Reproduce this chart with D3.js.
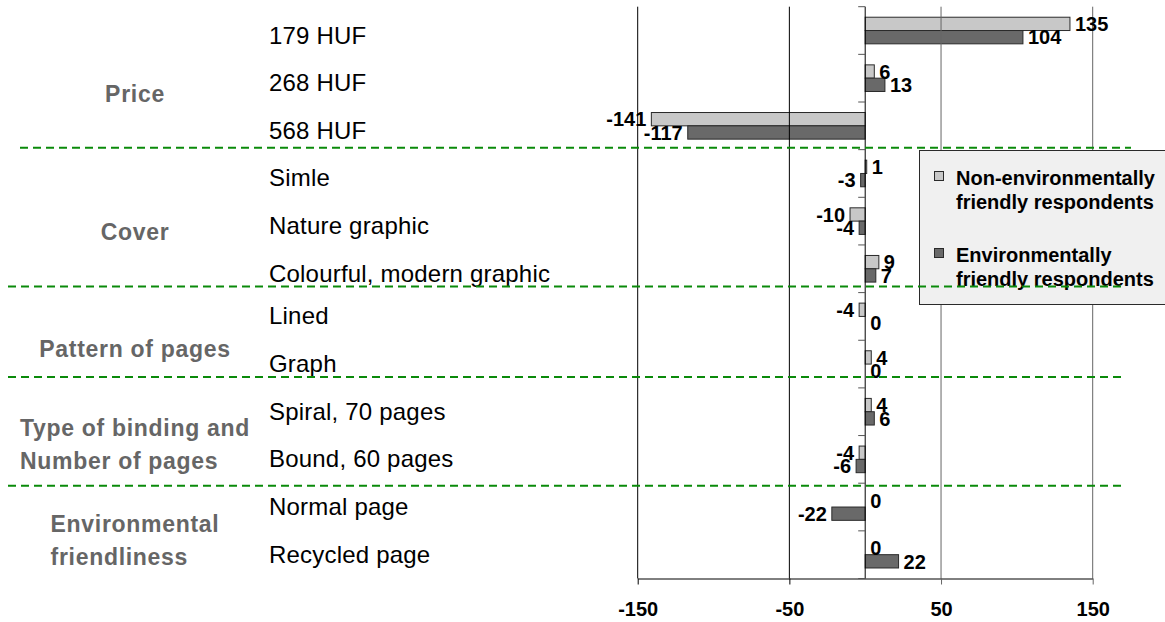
<!DOCTYPE html>
<html>
<head>
<meta charset="utf-8">
<script src="https://cdn.jsdelivr.net/npm/d3@7"></script>
<style>
  html, body { margin: 0; padding: 0; background: #ffffff; }
  svg { display: block; }
</style>
</head>
<body>
<div id="chart"></div>
<script>
// ---------------- data ----------------
const categories = [
  "179 HUF", "268 HUF", "568 HUF",
  "Simle", "Nature graphic", "Colourful, modern graphic",
  "Lined", "Graph",
  "Spiral, 70 pages", "Bound, 60 pages",
  "Normal page", "Recycled page"
];
const nonEnvValues = [135, 6, -141, 1, -10, 9, -4, 4, 4, -4, 0, 0];
const envValues    = [104, 13, -117, -3, -4, 7, 0, 0, 6, -6, -22, 22];
const seriesKeys = ["nonEnv", "env"];
const legendLabels = [
  ["Non-environmentally", "friendly respondents"],
  ["Environmentally", "friendly respondents"]
];
const groupNames = [
  ["Price"],
  ["Cover"],
  ["Pattern of pages"],
  ["Type of binding and", "Number of pages"],
  ["Environmental", "friendliness"]
];
const groupSizes = [3, 3, 2, 2, 2];
const xTickValues = [-150, -50, 50, 150];
const xDomain = [-150, 150];

// ---------------- layout / style ----------------
const W = 1165, H = 622;
const plotTop = 6.7, plotBottom = 578.5;
const colors = { nonEnv: "#c8c8c8", env: "#696969" };
const values = { nonEnv: nonEnvValues, env: envValues };
const fmt = v => String(v); // plain hyphen-minus, as in the reference

const svg = d3.select("#chart").append("svg")
  .attr("width", W).attr("height", H)
  .attr("font-family", "Arial, 'Liberation Sans', Helvetica, sans-serif");

const x = d3.scaleLinear().domain(xDomain).range([637.7, 1092.7]);
const y = d3.scaleBand().domain(categories).range([plotTop, plotBottom]);
const yInner = d3.scaleBand().domain(seriesKeys).range([0, y.bandwidth()])
  .paddingInner(0).paddingOuter(0.79);
const yIdx = d3.scaleLinear().domain([0, categories.length]).range([plotTop, plotBottom]);

// ---------------- bars ----------------
const barsG = svg.append("g");
seriesKeys.forEach(k => {
  barsG.selectAll("rect." + k)
    .data(categories.map((c, i) => ({ c, v: values[k][i] })))
    .join("rect")
    .attr("class", k)
    .attr("x", d => x(Math.min(0, d.v)))
    .attr("y", d => y(d.c) + yInner(k))
    .attr("width", d => Math.abs(x(d.v) - x(0)))
    .attr("height", yInner.bandwidth())
    .attr("fill", colors[k])
    .attr("stroke", "#2a2a2a")
    .attr("stroke-width", 1);
});

// ---------------- gridlines ----------------
svg.append("g").selectAll("line")
  .data(xTickValues)
  .join("line")
  .attr("x1", d => x(d)).attr("x2", d => x(d))
  .attr("y1", plotTop).attr("y2", plotBottom)
  .attr("stroke", d => d < 0 ? "#000" : "#666")
  .attr("stroke-width", 1);

// ---------------- x axis ----------------
const xAxis = d3.axisBottom(x)
  .tickValues(xTickValues)
  .tickSize(6)
  .tickSizeOuter(0)
  .tickPadding(17)
  .tickFormat(fmt);
const xAxisG = svg.append("g")
  .attr("transform", `translate(0,${plotBottom})`)
  .call(xAxis);
xAxisG.select(".domain").attr("stroke", "#000");
xAxisG.selectAll(".tick line").attr("stroke", d => d < 0 ? "#000" : "#666");
xAxisG.selectAll(".tick text")
  .attr("font-size", 20)
  .attr("font-weight", "bold")
  .attr("font-family", "Arial, 'Liberation Sans', sans-serif")
  .attr("fill", "#000");

// ---------------- category (zero) axis ----------------
const zeroG = svg.append("g");
zeroG.append("line")
  .attr("x1", x(0)).attr("x2", x(0))
  .attr("y1", plotTop).attr("y2", plotBottom)
  .attr("stroke", "#000").attr("stroke-width", 1);
zeroG.selectAll("line.tick")
  .data(d3.range(categories.length + 1))
  .join("line")
  .attr("class", "tick")
  .attr("x1", x(0) - 7).attr("x2", x(0))
  .attr("y1", d => yIdx(d)).attr("y2", d => yIdx(d))
  .attr("stroke", "#555").attr("stroke-width", 1);

// ---------------- value labels ----------------
const labG = svg.append("g")
  .attr("font-size", 20).attr("font-weight", "bold").attr("fill", "#000");
seriesKeys.forEach(k => {
  labG.selectAll("text." + k)
    .data(categories.map((c, i) => ({ c, v: values[k][i] })))
    .join("text")
    .attr("class", k)
    .attr("x", d => d.v < 0 ? x(d.v) - 5 : x(d.v) + 5)
    .attr("y", d => y(d.c) + yInner(k) + yInner.bandwidth() / 2 + 7.2)
    .attr("text-anchor", d => d.v < 0 ? "end" : "start")
    .text(d => fmt(d.v));
});

// ---------------- category labels ----------------
svg.append("g").selectAll("text")
  .data(categories)
  .join("text")
  .attr("x", 269)
  .attr("y", (d, i) => y(d) + y.bandwidth() / 2 + 8 + (i < 6 ? 5 : 0))
  .attr("font-size", 24)
  .attr("letter-spacing", "0.2px")
  .attr("fill", "#000")
  .text(d => d);

// ---------------- group labels ----------------
const groupStarts = groupSizes.map((s, i) => d3.sum(groupSizes.slice(0, i)));
const groupShift = [16, 11, 9, 9, 9];
const grpG = svg.append("g")
  .attr("font-size", 23).attr("font-weight", "bold")
  .attr("letter-spacing", "0.7px").attr("fill", "#666");
groupNames.forEach((lines, gi) => {
  const center = (yIdx(groupStarts[gi]) + yIdx(groupStarts[gi] + groupSizes[gi])) / 2 + groupShift[gi];
  const lh = 33;
  const t = grpG.append("text")
    .attr("text-anchor", lines.length > 1 ? "start" : "middle");
  lines.forEach((ln, li) => {
    t.append("tspan")
      .attr("x", 135)
      .attr("y", center - (lines.length - 1) * lh / 2 + li * lh + 8.2)
      .text(ln);
  });
  if (lines.length > 1) {
    const bw = t.node().getBBox().width;
    t.selectAll("tspan").attr("x", 135 - bw / 2);
  }
});

// ---------------- legend ----------------
const legG = svg.append("g");
legG.append("rect")
  .attr("x", 919.5).attr("y", 150.5)
  .attr("width", 262).attr("height", 154)
  .attr("fill", "#f0f0f0").attr("stroke", "#2a2a2a").attr("stroke-width", 1);
seriesKeys.forEach((k, i) => {
  const top = 171 + i * 77;
  legG.append("rect")
    .attr("x", 934.5).attr("y", top + 0.5)
    .attr("width", 9).attr("height", 9)
    .attr("fill", colors[k]).attr("stroke", "#2a2a2a").attr("stroke-width", 1);
  legendLabels[i].forEach((ln, li) => {
    legG.append("text")
      .attr("x", 956)
      .attr("y", top + 14 + li * 24)
      .attr("font-size", 20).attr("font-weight", "bold").attr("fill", "#000")
      .text(ln);
  });
});

// ---------------- group separators ----------------
const sepBoundaries = [3, 6, 8, 10];
const sepAdjust = [-2, -6, -11, 2.5];
const sepStartX = [20, 8, 8, 8];
const sepEndX = [1131, 1122, 1125, 1125];
svg.append("g").selectAll("line")
  .data(sepBoundaries)
  .join("line")
  .attr("x1", (d, i) => sepStartX[i]).attr("x2", (d, i) => sepEndX[i])
  .attr("y1", (d, i) => yIdx(d) + sepAdjust[i])
  .attr("y2", (d, i) => yIdx(d) + sepAdjust[i])
  .attr("stroke", "#0a8a0a").attr("stroke-width", 2)
  .attr("stroke-dasharray", "8,5");
</script>
</body>
</html>
